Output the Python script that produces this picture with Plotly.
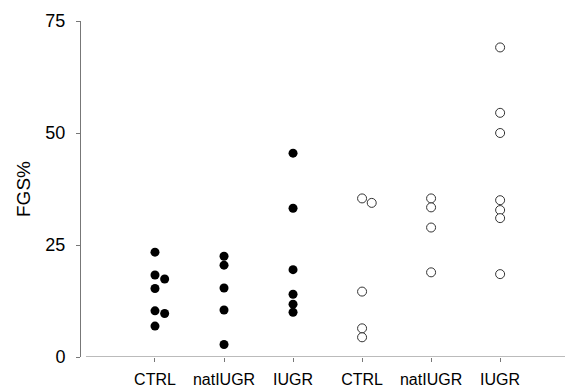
import plotly.graph_objects as go

categories = ["CTRL", "natIUGR", "IUGR", "CTRL", "natIUGR", "IUGR"]

# filled groups (positions 1-3)
ctrl_filled = [23.4, 18.3, 17.4, 15.3, 10.3, 9.7, 6.9]
ctrl_filled_jit = [0, 0, 0.14, 0, 0, 0.14, 0]
natiugr_filled = [22.5, 20.5, 15.4, 10.5, 2.8]
iugr_filled = [45.5, 33.2, 19.5, 14.0, 11.8, 10.0]

# open groups (positions 4-6)
ctrl_open = [35.4, 34.4, 14.6, 6.4, 4.4]
ctrl_open_jit = [0, 0.14, 0, 0, 0]
natiugr_open = [35.4, 33.4, 28.9, 18.9]
iugr_open = [69.1, 54.5, 50.0, 35.0, 32.8, 31.0, 18.5]

y_ticks = [0, 25, 50, 75]

groups = [
    (1, ctrl_filled, ctrl_filled_jit, True),
    (2, natiugr_filled, None, True),
    (3, iugr_filled, None, True),
    (4, ctrl_open, ctrl_open_jit, False),
    (5, natiugr_open, None, False),
    (6, iugr_open, None, False),
]

fig = go.Figure()
for pos, vals, jit, filled in groups:
    offs = jit if jit is not None else [0] * len(vals)
    xs = [pos + o for o in offs]
    if filled:
        marker = dict(size=9, color="black", line=dict(width=0))
    else:
        marker = dict(size=9, color="white", symbol="circle",
                      line=dict(width=1, color="#333333"))
    fig.add_trace(go.Scatter(x=xs, y=vals, mode="markers", marker=marker,
                             showlegend=False, cliponaxis=False))

fig.add_shape(type="line", xref="x", yref="y", x0=0, x1=6.94, y0=0, y1=0,
              line=dict(color="#777777", width=1))

fig.update_layout(
    width=571, height=388,
    margin=dict(l=81, r=6, t=21, b=31),
    plot_bgcolor="white", paper_bgcolor="white",
    font=dict(family="Liberation Sans, Arial, sans-serif", color="black"),
    xaxis=dict(range=[-0.072, 6.94], tickvals=[1, 2, 3, 4, 5, 6],
               ticktext=categories, showgrid=False, zeroline=False,
               showline=False, ticks="outside", ticklen=4, tickcolor="#777777",
               tickfont=dict(size=16), ticklabelstandoff=4, automargin=False),
    yaxis=dict(range=[0, 75], tickvals=y_ticks, showgrid=False, zeroline=False,
               showline=True, linecolor="#777777", linewidth=1,
               ticks="outside", ticklen=4, tickcolor="#777777",
               tickfont=dict(size=18), ticklabelstandoff=7, automargin=False,
               title=dict(text="FGS%", font=dict(size=19), standoff=9)),
)

fig.write_html("out.html")
